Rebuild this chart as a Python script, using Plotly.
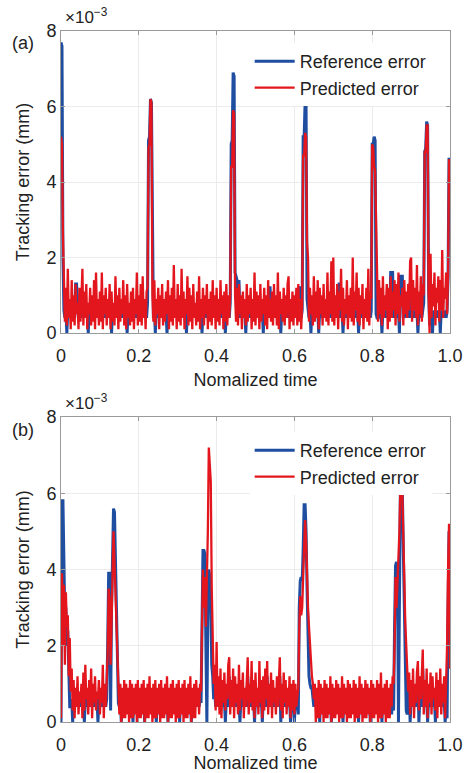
import numpy as np
import plotly.graph_objects as go

# ---------------- data (values in units of 1e-4 mm, i.e. tenths of 1e-3) ----------------
x_ticks = [0, 0.2, 0.4, 0.6, 0.8, 1.0]
x_tick_labels = ["0", "0.2", "0.4", "0.6", "0.8", "1.0"]
y_ticks = [0, 2, 4, 6, 8]
y_tick_labels = ["0", "2", "4", "6", "8"]

# panel (a)
a_reference = [
    77, 76, 20, 6, 4, 6, 0, 6, 4, 6, 4, 6, 4, 6, 4, 13, 13, 6, 4, 6,
    4, 6, 4, 6, 4, 6, 4, 6, 0, 6, 4, 6, 4, 6, 4, 6, 4, 6, 4, 6,
    4, 6, 4, 6, 4, 6, 4, 6, 4, 6, 4, 6, 0, 6, 4, 6, 4, 6, 4, 6,
    4, 6, 4, 6, 4, 6, 4, 6, 0, 6, 4, 6, 4, 6, 4, 6, 4, 6, 4, 6,
    4, 6, 4, 6, 4, 6, 4, 6, 4, 8, 51, 52, 62, 61, 15, 4, 6, 0, 6, 4,
    6, 4, 6, 4, 6, 4, 6, 4, 6, 0, 6, 4, 6, 4, 6, 4, 9, 4, 6, 4,
    6, 4, 6, 4, 6, 4, 9, 4, 6, 0, 6, 4, 6, 4, 6, 4, 6, 4, 6, 4,
    6, 4, 6, 4, 6, 0, 6, 4, 6, 4, 6, 4, 6, 4, 6, 4, 6, 4, 6, 4,
    6, 4, 6, 4, 6, 4, 6, 4, 6, 0, 6, 4, 6, 4, 8, 50, 51, 69, 68, 16,
    15, 14, 4, 14, 4, 6, 4, 6, 4, 6, 0, 6, 4, 6, 4, 6, 4, 6, 4, 6,
    4, 6, 4, 6, 4, 6, 4, 6, 0, 6, 4, 6, 4, 8, 12, 12, 4, 6, 4, 6,
    4, 6, 4, 6, 4, 6, 0, 6, 4, 6, 4, 6, 4, 6, 4, 6, 4, 6, 4, 6,
    4, 6, 4, 6, 4, 12, 12, 4, 6, 52, 52, 61, 60, 9, 6, 4, 6, 0, 6, 4,
    6, 4, 6, 4, 6, 0, 6, 4, 6, 4, 6, 4, 6, 4, 6, 4, 6, 4, 6, 4,
    6, 4, 6, 4, 8, 4, 13, 13, 4, 6, 0, 6, 4, 6, 4, 6, 4, 6, 4, 6,
    4, 6, 4, 6, 4, 6, 0, 6, 4, 6, 4, 6, 4, 6, 4, 6, 4, 6, 4, 6,
    50, 50, 52, 51, 5, 4, 4, 6, 4, 6, 0, 6, 4, 6, 4, 6, 4, 6, 4, 16,
    16, 16, 4, 6, 4, 6, 4, 6, 0, 15, 15, 15, 4, 6, 4, 6, 4, 6, 4, 13,
    13, 4, 6, 4, 6, 4, 6, 0, 6, 4, 6, 4, 6, 8, 48, 49, 56, 55, 12, 2,
    4, 6, 0, 6, 4, 6, 4, 6, 4, 6, 0, 6, 4, 6, 4, 6, 4, 6, 15, 46,
    46,
]
a_predicted = [
    52, 50, 26, 15, 3, 12, 2, 17, 4, 9, 1, 14, 3, 10, 2, 13, 5, 8, 1, 12,
    3, 9, 17, 2, 11, 4, 13, 1, 8, 5, 12, 2, 10, 3, 14, 1, 16, 4, 9, 2,
    11, 3, 16, 1, 10, 5, 12, 2, 9, 4, 13, 1, 11, 3, 8, 2, 15, 4, 10, 1,
    12, 3, 9, 5, 14, 2, 10, 1, 13, 4, 8, 2, 11, 3, 12, 1, 9, 5, 16, 2,
    10, 3, 13, 2, 15, 4, 9, 1, 11, 12, 49, 50, 62, 61, 10, 3, 14, 2, 9, 5,
    12, 1, 10, 4, 13, 2, 9, 3, 11, 5, 14, 1, 10, 3, 12, 2, 18, 4, 9, 1,
    13, 3, 10, 2, 17, 4, 11, 1, 9, 5, 15, 2, 12, 3, 10, 1, 13, 4, 8, 2,
    11, 3, 15, 1, 9, 4, 12, 2, 10, 5, 13, 1, 9, 3, 11, 2, 14, 4, 10, 1,
    12, 3, 9, 2, 14, 5, 10, 1, 11, 3, 13, 2, 10, 4, 10, 44, 44, 59, 58, 10,
    3, 12, 2, 13, 5, 10, 1, 11, 4, 9, 2, 13, 3, 10, 5, 12, 1, 9, 3, 16,
    2, 11, 4, 10, 1, 13, 3, 9, 5, 12, 2, 10, 1, 14, 4, 9, 3, 11, 2, 13,
    4, 10, 2, 16, 1, 11, 5, 9, 3, 12, 2, 10, 4, 13, 15, 1, 9, 3, 11, 2,
    10, 4, 12, 2, 13, 3, 9, 1, 8, 47, 47, 53, 52, 24, 20, 3, 12, 5, 10, 2,
    15, 3, 11, 4, 14, 1, 12, 5, 10, 2, 13, 4, 9, 3, 16, 2, 11, 5, 19, 3,
    20, 2, 10, 4, 13, 1, 11, 6, 17, 3, 12, 2, 9, 5, 14, 1, 10, 4, 12, 3,
    20, 2, 11, 6, 16, 3, 12, 2, 10, 5, 13, 1, 9, 4, 12, 3, 17, 2, 11, 9,
    50, 49, 44, 43, 27, 20, 3, 14, 5, 12, 2, 15, 4, 10, 6, 13, 1, 12, 3, 15,
    4, 11, 6, 14, 2, 13, 5, 16, 3, 10, 7, 12, 2, 14, 5, 11, 4, 13, 6, 19,
    20, 3, 14, 6, 12, 4, 18, 2, 11, 5, 15, 3, 13, 10, 48, 48, 55, 55, 10, 0,
    21, 4, 13, 7, 16, 2, 12, 8, 15, 3, 14, 6, 22, 4, 12, 9, 16, 5, 15, 46,
    45,
]

# panel (b)
b_reference = [
    0, 58, 58, 40, 26, 30, 20, 24, 10, 4, 4, 6, 0, 6, 4, 6, 4, 6, 4, 6,
    4, 6, 4, 6, 0, 6, 4, 6, 4, 6, 4, 6, 4, 6, 4, 6, 4, 6, 0, 6,
    4, 6, 4, 6, 4, 6, 4, 6, 20, 39, 39, 3, 30, 50, 56, 55, 40, 25, 12, 5,
    4, 6, 0, 6, 4, 6, 4, 6, 4, 6, 4, 6, 4, 6, 0, 6, 4, 6, 4, 6,
    4, 6, 4, 6, 4, 6, 0, 6, 4, 6, 4, 6, 4, 6, 4, 6, 4, 6, 0, 6,
    4, 6, 4, 6, 4, 6, 4, 6, 4, 6, 0, 6, 4, 6, 4, 6, 4, 6, 4, 6,
    4, 6, 0, 6, 4, 6, 4, 6, 4, 6, 4, 6, 4, 6, 0, 6, 4, 6, 4, 6,
    4, 6, 4, 6, 5, 20, 45, 45, 44, 20, 0, 30, 40, 38, 30, 15, 12, 6, 9, 4,
    12, 4, 6, 4, 6, 4, 6, 4, 6, 0, 6, 4, 6, 12, 4, 6, 4, 6, 4, 6,
    4, 6, 4, 6, 0, 6, 4, 6, 4, 6, 4, 6, 12, 4, 6, 4, 6, 4, 6, 0,
    6, 4, 6, 4, 6, 4, 6, 0, 6, 4, 6, 4, 12, 4, 6, 4, 6, 4, 6, 4,
    6, 4, 6, 4, 6, 12, 0, 6, 4, 6, 4, 6, 4, 6, 4, 6, 0, 6, 4, 6,
    0, 6, 4, 6, 2, 30, 37, 38, 37, 45, 57, 57, 50, 35, 26, 12, 10, 9, 9, 6,
    4, 6, 4, 6, 4, 6, 0, 6, 4, 6, 4, 6, 4, 6, 4, 6, 4, 6, 0, 6,
    4, 6, 4, 6, 4, 6, 4, 6, 4, 6, 0, 6, 4, 6, 4, 6, 4, 6, 4, 6,
    4, 6, 4, 6, 4, 6, 0, 6, 4, 6, 4, 6, 4, 6, 4, 6, 4, 6, 0, 6,
    4, 6, 4, 6, 4, 6, 4, 6, 4, 6, 0, 6, 4, 6, 4, 6, 4, 6, 4, 6,
    2, 8, 3, 25, 41, 42, 40, 0, 40, 62, 62, 61, 45, 30, 10, 3, 2, 5, 9, 0,
    6, 4, 6, 4, 6, 4, 8, 12, 0, 6, 4, 6, 14, 4, 6, 4, 6, 0, 6, 4,
    6, 4, 6, 4, 6, 0, 6, 4, 6, 4, 6, 4, 6, 4, 6, 0, 3, 1, 30, 50,
    15,
]
b_predicted = [
    1, 39, 20, 36, 15, 34, 25, 28, 12, 22, 8, 14, 3, 11, 1, 9, 4, 12, 2, 8,
    5, 10, 1, 13, 3, 15, 6, 9, 2, 11, 4, 14, 1, 10, 5, 12, 3, 8, 6, 11,
    2, 9, 5, 15, 1, 10, 4, 13, 18, 35, 32, 15, 28, 45, 50, 42, 33, 26, 20, 12,
    2, 10, 0, 9, 1, 11, 1, 10, 2, 9, 0, 11, 1, 10, 1, 9, 2, 10, 0, 11,
    1, 9, 1, 10, 2, 11, 0, 9, 1, 10, 1, 12, 2, 9, 0, 10, 1, 11, 1, 9,
    2, 10, 0, 11, 1, 9, 1, 10, 2, 12, 0, 9, 1, 10, 1, 11, 2, 9, 0, 10,
    1, 11, 1, 9, 2, 10, 0, 11, 1, 9, 1, 10, 2, 12, 0, 9, 1, 10, 1, 11,
    4, 9, 2, 10, 8, 25, 40, 30, 38, 25, 35, 50, 72, 65, 63, 35, 22, 10, 15, 3,
    21, 4, 12, 2, 14, 1, 11, 5, 13, 3, 10, 6, 15, 17, 2, 11, 4, 14, 1, 12,
    5, 10, 2, 15, 3, 11, 6, 13, 1, 9, 4, 12, 17, 2, 10, 5, 16, 3, 11, 1,
    13, 4, 9, 2, 16, 5, 11, 1, 12, 3, 14, 6, 16, 2, 10, 4, 13, 1, 11, 5,
    9, 2, 12, 4, 14, 17, 3, 10, 1, 13, 5, 11, 2, 9, 4, 12, 1, 10, 3, 11,
    2, 10, 4, 8, 9, 25, 33, 28, 30, 38, 45, 53, 48, 36, 30, 25, 20, 15, 12, 10,
    6, 10, 0, 9, 1, 11, 1, 10, 2, 9, 0, 11, 1, 10, 1, 9, 2, 12, 0, 10,
    1, 9, 1, 11, 2, 10, 0, 9, 1, 12, 1, 10, 2, 9, 0, 11, 1, 10, 1, 9,
    2, 11, 0, 10, 1, 9, 1, 12, 2, 10, 0, 9, 1, 11, 1, 10, 2, 9, 0, 11,
    1, 10, 1, 9, 2, 11, 0, 10, 1, 13, 1, 9, 2, 10, 0, 11, 1, 9, 1, 10,
    4, 12, 10, 20, 38, 30, 36, 40, 50, 62, 62, 60, 45, 38, 26, 20, 14, 8, 13, 2,
    11, 4, 14, 1, 10, 5, 13, 16, 3, 12, 6, 15, 19, 2, 11, 4, 14, 1, 10, 5,
    13, 2, 12, 6, 9, 3, 13, 1, 11, 4, 14, 2, 10, 5, 12, 1, 9, 20, 40, 52,
    14,
]

for arr in (a_reference, a_predicted, b_reference, b_predicted):
    assert len(arr) == 401, len(arr)

SCALE = 1e-4          # stored values are in units of 1e-4 mm
n = len(a_reference)
t = np.linspace(0, 1, n)   # normalized time grid

BLUE = "#1f4ea1"
RED = "#e4161d"
FONT = "Arial, Liberation Sans, sans-serif"
TXT = "#222222"

fig = go.Figure()
fig.add_trace(go.Scatter(x=t, y=np.array(a_reference) * SCALE, mode="lines",
                         line=dict(color=BLUE, width=3), name="Reference error",
                         xaxis="x", yaxis="y", legend="legend"))
fig.add_trace(go.Scatter(x=t, y=np.array(a_predicted) * SCALE, mode="lines",
                         line=dict(color=RED, width=2.3), name="Predicted error",
                         xaxis="x", yaxis="y", legend="legend"))
fig.add_trace(go.Scatter(x=t, y=np.array(b_reference) * SCALE, mode="lines",
                         line=dict(color=BLUE, width=3), name="Reference error",
                         xaxis="x2", yaxis="y2", legend="legend2"))
fig.add_trace(go.Scatter(x=t, y=np.array(b_predicted) * SCALE, mode="lines",
                         line=dict(color=RED, width=2.3), name="Predicted error",
                         xaxis="x2", yaxis="y2", legend="legend2"))

axis_common = dict(
    showline=True, linecolor="#9a9a9a", linewidth=1, mirror="ticks",
    ticks="inside", ticklen=4, tickcolor="#9a9a9a",
    showgrid=True, gridcolor="#ebebeb", gridwidth=1, automargin=False,
    zeroline=False, tickfont=dict(family=FONT, size=18, color=TXT),
)
xaxis_common = dict(axis_common, range=[0, 1], tickvals=x_ticks, ticktext=x_tick_labels,
                    ticklabelstandoff=6,
                    title=dict(text="Nomalized time", font=dict(family=FONT, size=18, color=TXT),
                               standoff=8))
yaxis_common = dict(axis_common, range=[0, 8e-3], tickvals=[v * 1e-3 for v in y_ticks],
                    ticktext=y_tick_labels,
                    title=dict(text="Tracking error (mm)", font=dict(family=FONT, size=18, color=TXT),
                               standoff=12))

H_TOP, H_BOT = 31, 51
plot_h = 773 - H_TOP - H_BOT

def py(px):
    return (773 - H_BOT - px) / plot_h

fig.update_layout(
    width=465, height=773,
    margin=dict(l=61, r=15, t=H_TOP, b=H_BOT, autoexpand=False),
    paper_bgcolor="white", plot_bgcolor="white",
    font=dict(family=FONT, size=18, color=TXT),
    xaxis=dict(xaxis_common, domain=[0, 1], anchor="y"),
    yaxis=dict(yaxis_common, domain=[py(333), 1], anchor="x"),
    xaxis2=dict(xaxis_common, domain=[0, 1], anchor="y2"),
    yaxis2=dict(yaxis_common, domain=[0, py(417)], anchor="x2"),
    legend=dict(x=0.485, y=py(43), xanchor="left", yanchor="top",
                bgcolor="white", borderwidth=0, itemwidth=40,
                font=dict(family=FONT, size=18, color=TXT), tracegroupgap=0),
    legend2=dict(x=0.485, y=py(432), xanchor="left", yanchor="top",
                 bgcolor="white", borderwidth=0, itemwidth=40,
                 font=dict(family=FONT, size=18, color=TXT), tracegroupgap=0),
    showlegend=True,
    annotations=[
        dict(text="×10<sup>−3</sup>", x=0.005, y=py(16), xref="paper", yref="paper",
             xanchor="left", yanchor="middle", showarrow=False,
             font=dict(family=FONT, size=17, color=TXT)),
        dict(text="×10<sup>−3</sup>", x=0.005, y=py(402), xref="paper", yref="paper",
             xanchor="left", yanchor="middle", showarrow=False,
             font=dict(family=FONT, size=17, color=TXT)),
        dict(text="(a)", x=(23 - 61) / 389, y=py(43), xref="paper", yref="paper",
             xanchor="center", yanchor="middle", showarrow=False,
             font=dict(family=FONT, size=18, color=TXT)),
        dict(text="(b)", x=(23 - 61) / 389, y=py(430), xref="paper", yref="paper",
             xanchor="center", yanchor="middle", showarrow=False,
             font=dict(family=FONT, size=18, color=TXT)),
    ],
)

fig.write_html("out.html")
